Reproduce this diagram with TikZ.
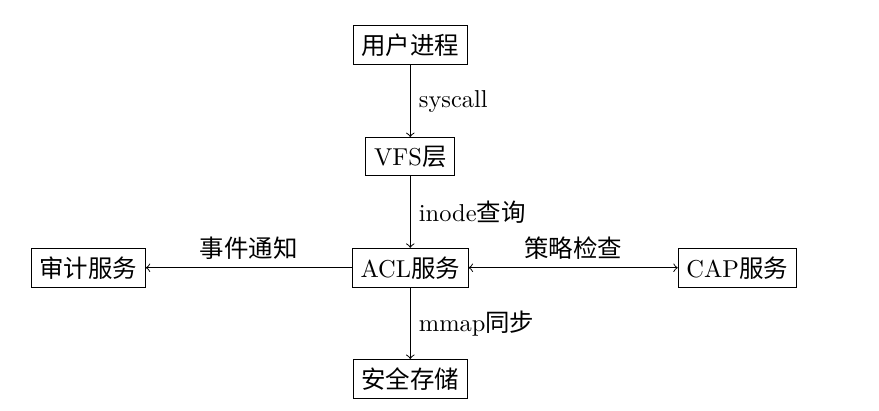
\documentclass[tikz,border=0pt]{standalone}
\usepackage{fontspec}
\newfontfamily\cjk{Noto Sans CJK SC}
\usepackage{tikz}
\usetikzlibrary{arrows}

\begin{document}
\begin{tikzpicture}[>=to, auto, node distance=1.6cm, semithick]
\tikzstyle{block}=[draw=black, thin, fill=white, inner sep=0.3333em]
\useasboundingbox (-5.90,-5.26) rectangle (6.74,0.65);

\node[block] (user) {{\cjk 用户进程}};
\node[block] (vfs) [below of=user] {VFS{\cjk 层}};
\node[block] (acl) [below of=vfs] {ACL{\cjk 服务}};
\node[block] (store) [below of=acl] {{\cjk 安全存储}};
\node[block] (audit) [left of=acl, node distance=4.63cm] {{\cjk 审计服务}};
\node[block] (cap) [right of=acl, node distance=4.7cm] {CAP{\cjk 服务}};

\path[->, thin] (user) edge node {syscall} (vfs);
\path[->, thin] (vfs) edge node {inode{\cjk 查询}} (acl);
\path[->, thin] (acl) edge node {mmap{\cjk 同步}} (store);
\path[->, thin] (acl) edge node[above] {{\cjk 事件通知}} (audit);
\path[<->, thin] (acl) edge node[above] {{\cjk 策略检查}} (cap);
\end{tikzpicture}
\end{document}
